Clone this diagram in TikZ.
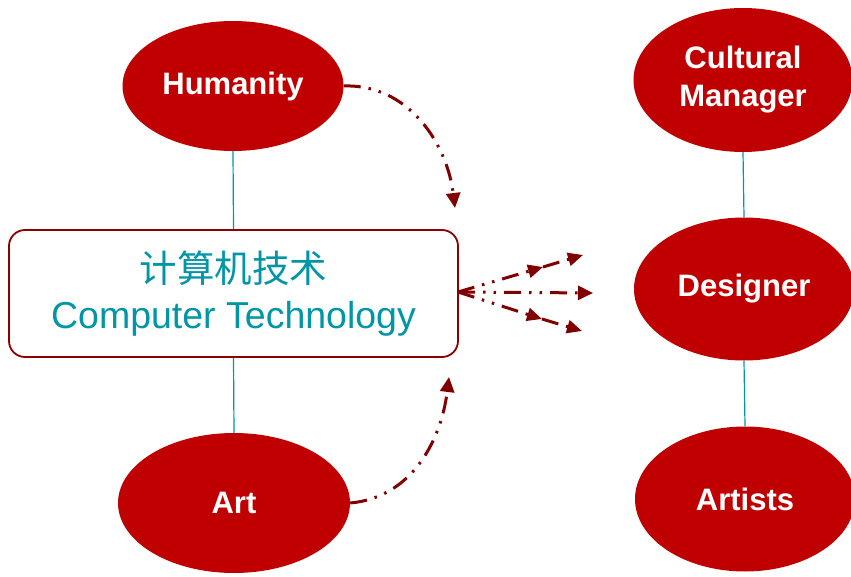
\documentclass[tikz,border=0pt]{standalone}
\usepackage{fontspec}
\setmainfont{Liberation Sans}
\newfontfamily\cjkfont{Noto Sans CJK SC}
\usetikzlibrary{shapes.geometric,arrows.meta}
\definecolor{ellred}{RGB}{192,0,0}
\definecolor{arrred}{RGB}{128,0,0}
\definecolor{boxred}{RGB}{140,0,0}
\definecolor{tealc}{RGB}{0,150,166}
\tikzset{
  ell/.style={ellipse,fill=ellred,draw=none,inner sep=0pt,text=white,font=\fontsize{31}{38}\selectfont\bfseries,align=center},
  link/.style={draw=tealc,line width=1.2pt},
  dda/.style={draw=arrred,line width=3pt,dash pattern=on 17pt off 8pt on 2.5pt off 8pt on 2.5pt off 8pt,-{Triangle[length=15pt,width=14pt]}},
  dmid/.style={draw=arrred,line width=3pt,dash pattern=on 17pt off 8pt on 2.5pt off 8pt on 2.5pt off 8pt,-{Triangle[length=15pt,width=13pt]}},
}
\begin{document}
\begin{tikzpicture}[x=1pt,y=1pt]
\useasboundingbox (0,0) rectangle (851,-577);
\node[ell,minimum width=221pt,minimum height=130pt] (hum) at (233,-86) {Humanity};
\node[ell,minimum width=232pt,minimum height=140pt] (art) at (234,-503) {Art};
\node[ell,minimum width=219pt,minimum height=144pt] (cul) at (743,-80) {Cultural\\Manager};
\node[ell,minimum width=220pt,minimum height=143pt] (des) at (744,-289) {Designer};
\node[ell,minimum width=220pt,minimum height=145pt] (ats) at (745,-499) {Artists};
\node[draw=boxred,line width=1.8pt,rounded corners=16pt,minimum width=449pt,minimum height=127pt,fill=white,
      text=tealc,align=center,font=\fontsize{37.5}{46}\selectfont] (box) at (233.5,-293.5)
      {{\cjkfont 计算机技术}\\Computer Technology};
\draw[link] (hum.south) -- (box.north);
\draw[link] (box.south) -- (art.north);
\draw[link] (cul.south) -- (des.north);
\draw[link] (des.south) -- (ats.north);
\coordinate (h1) at (455,-208);
\coordinate (a1) at (449,-377);
\coordinate (s) at (458,-292);
\coordinate (m1) at (543,-267);
\coordinate (e1) at (583,-255);
\coordinate (e2) at (593,-293);
\coordinate (m3) at (542,-319);
\coordinate (e3) at (582,-331);
\draw[dda] (hum.east) to[out=2,in=97] (h1);
\draw[dda] (art.east) to[out=5,in=-97] (a1);
\draw[dmid] (s) -- (m1);
\draw[dmid] (m1) -- (e1);
\draw[dda] (s) -- (e2);
\draw[dmid] (s) -- (m3);
\draw[dmid] (m3) -- (e3);
\end{tikzpicture}
\end{document}
